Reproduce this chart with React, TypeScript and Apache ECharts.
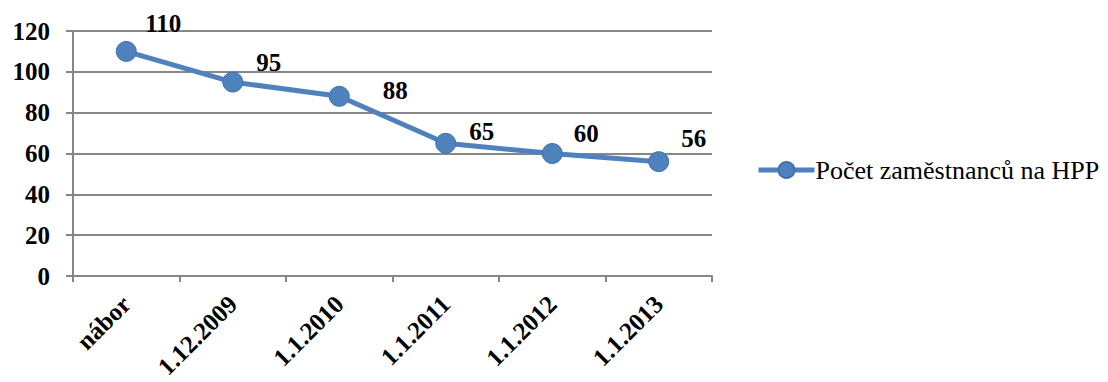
import React, { useEffect, useRef } from "react";
import * as echarts from "echarts";

const categories = ["nábor", "1.12.2009", "1.1.2010", "1.1.2011", "1.1.2012", "1.1.2013"];
const employees = [110, 95, 88, 65, 60, 56];
const seriesName = "Počet zaměstnanců na HPP";

// label placement (layout, px relative to the point)
const labelOffsets: [number, number][] = [
  [37, -28],
  [36, -20],
  [56, -6],
  [36, -12],
  [34, -20],
  [35, -23],
];

const FONT = "Liberation Serif";
const BLUE = "#4F81BD";

export default function App() {
  const ref = useRef<HTMLDivElement>(null);
  useEffect(() => {
    if (!ref.current) return;
    const chart = echarts.init(ref.current, undefined, { renderer: "svg" });
    chart.setOption({
      animation: false,
      textStyle: { fontFamily: FONT },
      grid: { left: 73, right: 396, top: 31, bottom: 106, containLabel: false },
      legend: {
        data: [seriesName],
        left: 751,
        top: 152,
        itemWidth: 56,
        itemHeight: 20,
        itemGap: 0,
        lineStyle: { width: 5, color: BLUE },
        textStyle: { fontFamily: FONT, fontSize: 26, color: "#000", padding: [0, 0, 0, -4] },
      },
      xAxis: {
        type: "category",
        data: categories,
        boundaryGap: true,
        axisLine: { lineStyle: { color: "#868686", width: 2 } },
        axisTick: { show: true, length: 6, lineStyle: { color: "#868686", width: 2 } },
        axisLabel: {
          rotate: 45,
          margin: 24,
          fontFamily: FONT,
          fontWeight: "bold",
          fontSize: 25,
          color: "#000",
          interval: 0,
        },
      },
      yAxis: {
        type: "value",
        min: 0,
        max: 120,
        interval: 20,
        axisLine: { show: true, lineStyle: { color: "#868686", width: 2 } },
        axisTick: { show: true, length: 7, lineStyle: { color: "#868686", width: 2 } },
        splitLine: { lineStyle: { color: "#868686", width: 2 } },
        axisLabel: {
          margin: 23,
          fontFamily: FONT,
          fontWeight: "bold",
          fontSize: 25,
          color: "#000",
        },
      },
      series: [
        {
          name: seriesName,
          type: "line",
          data: employees.map((v, i) => ({
            value: v,
            label: { offset: labelOffsets[i] },
          })),
          symbol: "circle",
          symbolSize: 20,
          lineStyle: { color: BLUE, width: 5 },
          itemStyle: { color: BLUE, borderColor: "#3F72AF", borderWidth: 1 },
          label: {
            show: true,
            position: "inside",
            align: "center",
            verticalAlign: "middle",
            fontFamily: FONT,
            fontWeight: "bold",
            fontSize: 25,
            color: "#000",
          },
        },
      ],
    });
    return () => chart.dispose();
  }, []);
  return (
    <div
      ref={ref}
      style={{ position: "fixed", left: 0, top: 0, width: 1108, height: 382, background: "#fff" }}
    />
  );
}
